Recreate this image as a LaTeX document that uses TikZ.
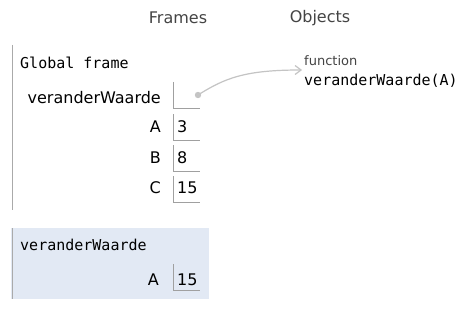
\documentclass[tikz,border=0pt]{standalone}
\usepackage{fontspec}
\setmainfont{DejaVu Sans}
\newfontfamily\monofont{DejaVu Sans Mono}
\usetikzlibrary{arrows.meta}
\definecolor{headgray}{HTML}{444444}
\definecolor{framebar}{HTML}{AAAAAA}
\definecolor{cellline}{HTML}{A0A0A0}
\definecolor{pointer}{HTML}{C4C4C4}
\definecolor{activebg}{HTML}{E2E9F4}
\tikzset{
  header/.style={font=\fontsize{16}{18}\selectfont, text=headgray, inner sep=0pt},
  monolabel/.style={font=\monofont\fontsize{15}{17}\selectfont, text=black, inner sep=0pt, anchor=west},
  varname/.style={font=\fontsize{16}{18}\selectfont, text=black, inner sep=0pt, anchor=east},
  cellval/.style={font=\fontsize{16}{18}\selectfont, text=black, inner sep=0pt, anchor=west},
  cell/.style={draw=none, minimum width=27pt, minimum height=26pt, inner sep=0pt},
  cellborder/.style={draw=cellline, line width=0.8pt},
  framebarline/.style={draw=framebar, line width=1pt},
  ptr/.style={draw=pointer, line width=1.2pt, -{Straight Barb[length=6pt,width=9pt]}},
}
\begin{document}
\begin{tikzpicture}[x=1pt,y=-1pt]
\useasboundingbox (0,0) rectangle (465,310);
\fill[white] (0,0) rectangle (465,310);

% column headers
\node[header] (hframes) at (178,18) {Frames};
\node[header] (hobjects) at (320,18) {Objects};

% global frame
\draw[framebarline] (12,45) -- (12,210);
\node[monolabel] (gtitle) at (20,63) {Global frame};

% rows of the global frame
\node[varname] (vfun) at (161,98) {veranderWaarde};
\node[cell, anchor=north west] (cfun) at (173,82) {};
\draw[cellborder] (cfun.north west) -- (cfun.south west) -- (cfun.south east);

\node[varname] (vA) at (161,127) {A};
\node[cell, anchor=north west] (cA) at (173,114) {};
\draw[cellborder] (cA.north west) -- (cA.south west) -- (cA.south east);
\node[cellval] at (177,127) {3};

\node[varname] (vB) at (161,158) {B};
\node[cell, anchor=north west] (cB) at (173,145) {};
\draw[cellborder] (cB.north west) -- (cB.south west) -- (cB.south east);
\node[cellval] at (177,158) {8};

\node[varname] (vC) at (161,188) {C};
\node[cell, anchor=north west] (cC) at (173,176) {};
\draw[cellborder] (cC.north west) -- (cC.south west) -- (cC.south east);
\node[cellval] at (177,188) {15};

% function object
\node[font=\fontsize{13}{15}\selectfont, text=headgray, inner sep=0pt, anchor=west] (ftype) at (304,61) {function};
\node[monolabel] (fobj) at (304,81) {veranderWaarde(A)};

% pointer from the cell to the function object
\coordinate (dot) at (198,95);
\fill[pointer] (dot) circle (3.2pt);
\coordinate (tip) at (302,70);
\draw[ptr] (dot) .. controls (225,78) and (245,70) .. (tip);

% active frame of the call
\fill[activebg] (11,228) rectangle (209,299);
\draw[framebarline] (12,228) -- (12,299);
\node[monolabel] (ftitle) at (20,245) {veranderWaarde};
\node[varname] (lA) at (159,280) {A};
\node[cell, anchor=north west] (lcA) at (173,264) {};
\draw[cellborder] (lcA.north west) -- (lcA.south west) -- (lcA.south east);
\node[cellval] at (177,280) {15};
\end{tikzpicture}
\end{document}
